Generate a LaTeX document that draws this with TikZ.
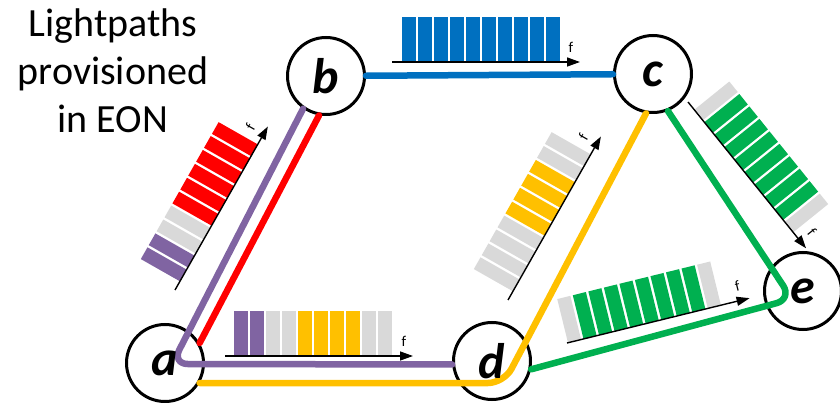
\documentclass[tikz,border=0pt]{standalone}
\usepackage{fontspec}
\setmainfont{Carlito}
\usetikzlibrary{arrows.meta}

\definecolor{lpblue}{HTML}{0070C0}
\definecolor{lpred}{HTML}{FF0000}
\definecolor{lppurple}{HTML}{8064A2}
\definecolor{lpyellow}{HTML}{FFC000}
\definecolor{lpgreen}{HTML}{00B050}
\definecolor{lpgray}{HTML}{D9D9D9}

\tikzset{
  link/.style={line width=6.5pt, line cap=round, line join=round, rounded corners=16pt},
  router/.style={circle, draw=black, line width=3pt, minimum size=77pt, inner sep=0pt},
  routername/.style={inner sep=0pt, font=\fontsize{50}{50}\selectfont\bfseries\itshape},
  freqaxis/.style={line width=1.4pt, -{Triangle[length=13pt,width=9pt]}},
  flabel/.style={inner sep=0pt, font=\fontsize{15}{15}\selectfont},
  caption/.style={inner sep=0pt, align=center, font=\fontsize{40}{48}\selectfont},
}

% Spectrum strip: #1 name, #2 origin, #3 angle, #4 offset of first slot, #5 slot colours
\newcommand\spectrum[5]{%
  \begin{scope}[shift={#2}, rotate=#3]
    \foreach \slotcol [count=\k] in {#5}
      \fill[\slotcol] ({#4+16*(\k-1)}, 0) rectangle ++(13.5,-45);
    \coordinate (#1-s) at (0,0);
    \coordinate (#1-t) at (188,0);
    \draw[freqaxis] (#1-s) -- (#1-t);
    \node[flabel, rotate=#3] (#1-f) at (179,-15) {f};
  \end{scope}}

\begin{document}
\begin{tikzpicture}[x=1pt, y=-1pt]
  \useasboundingbox (0,0) rectangle (840,403);

  % routers
  \node[router] (a) at (165,363) {};
  \node[router] (b) at (326,76) {};
  \node[router] (c) at (653,74) {};
  \node[router] (d) at (492,361) {};
  \node[router] (e) at (803,291) {};

  % bends of the lightpaths
  \coordinate (pc) at (172,364);
  \coordinate (yc) at (504,383);
  \coordinate (gc) at (792,299);

  % lightpaths
  \draw[link, lpblue] (b) -- (c);
  \draw[link, lpred] (b.-100) -- (a.30);
  \draw[link, lppurple] (b.-125) -- (pc) -- (d.185);
  \draw[link, lpyellow] (a.-30) -- (yc) -- (c.-100);
  \draw[link, lpgreen] (c.-68) -- (gc) -- (d.-12);

  % router names
  \node[routername] (a-txt) at (a) {a};
  \node[routername] (b-txt) at (b) {b};
  \node[routername] (c-txt) at (c) {c};
  \node[routername] (d-txt) at (d) {d};
  \node[routername] (e-txt) at (e) {e};

  % spectrum occupancy of each fibre
  \spectrum{bc}{(392,62)}{0}{10}{lpblue,lpblue,lpblue,lpblue,lpblue,lpblue,lpblue,lpblue,lpblue,lpblue}
  \spectrum{ad}{(225,356)}{0}{9}{lppurple,lppurple,lpgray,lpgray,lpyellow,lpyellow,lpyellow,lpyellow,lpgray,lpgray}
  \spectrum{ab}{(175,290)}{60.4}{10}{lppurple,lppurple,lpgray,lpgray,lpred,lpred,lpred,lpred,lpred,lpred}
  \spectrum{dc}{(508,300)}{60.4}{10}{lpgray,lpgray,lpgray,lpgray,lpyellow,lpyellow,lpyellow,lpyellow,lpgray,lpgray}
  \spectrum{ce}{(688,102)}{-51.1}{10}{lpgray,lpgreen,lpgreen,lpgreen,lpgreen,lpgreen,lpgreen,lpgreen,lpgreen,lpgray}
  \spectrum{de}{(567,343)}{13.8}{1}{lpgray,lpgreen,lpgreen,lpgreen,lpgreen,lpgreen,lpgreen,lpgreen,lpgreen,lpgray}

  % caption
  \node[caption, anchor=north] (title) at (113,9) {Lightpaths\\provisioned\\in EON};
\end{tikzpicture}
\end{document}
